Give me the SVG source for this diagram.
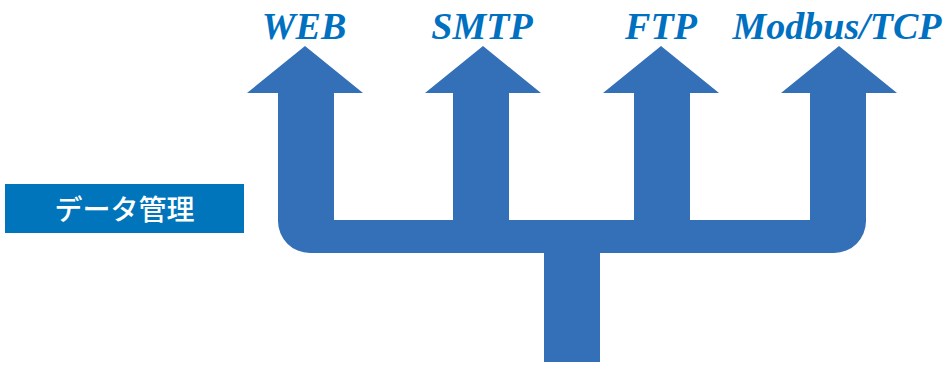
<svg xmlns="http://www.w3.org/2000/svg" width="943" height="365" viewBox="0 0 943 365">
  <style>
    .shape { fill: #3470B7; }
    .proto { font-family: "Liberation Serif", "Times New Roman", serif; font-weight: bold; font-style: italic; font-size: 38px; fill: #0070C0; text-anchor: middle; }
    .lbl { font-family: "Noto Sans CJK JP", "Noto Sans", sans-serif; font-weight: 500; font-size: 28px; fill: #FFFFFF; text-anchor: middle; dominant-baseline: central; }
  </style>
  <rect width="943" height="365" fill="#FFFFFF"/>
  <g id="connectors">
    <path class="shape" d="M 278,220 L 866,220 L 866,221 A 32 32 0 0 1 834,253 L 600,253 L 600,362 L 544,362 L 544,253 L 310,253 A 32 32 0 0 1 278,221 Z"/>
  </g>
  <g id="node-web">
    <path class="shape" d="M 278,93 L 247,93 L 305,46 L 363,93 L 334,93 L 334,222 L 278,222 Z"/>
    <text class="proto" x="304" y="39">WEB</text>
  </g>
  <g id="node-smtp">
    <path class="shape" d="M 453,93 L 425,93 L 483,46 L 541,93 L 509,93 L 509,222 L 453,222 Z"/>
    <text class="proto" x="482" y="39">SMTP</text>
  </g>
  <g id="node-ftp">
    <path class="shape" d="M 634,93 L 603,93 L 661,46 L 719,93 L 690,93 L 690,222 L 634,222 Z"/>
    <text class="proto" x="661" y="39">FTP</text>
  </g>
  <g id="node-modbus">
    <path class="shape" d="M 810,93 L 781,93 L 839,46 L 897,93 L 866,93 L 866,222 L 810,222 Z"/>
    <text class="proto" x="837" y="39">Modbus/TCP</text>
  </g>
  <g id="node-data">
    <rect x="5" y="184" width="239" height="49" fill="#0075BC"/>
    <text class="lbl" x="124.5" y="208">データ管理</text>
  </g>
</svg>
